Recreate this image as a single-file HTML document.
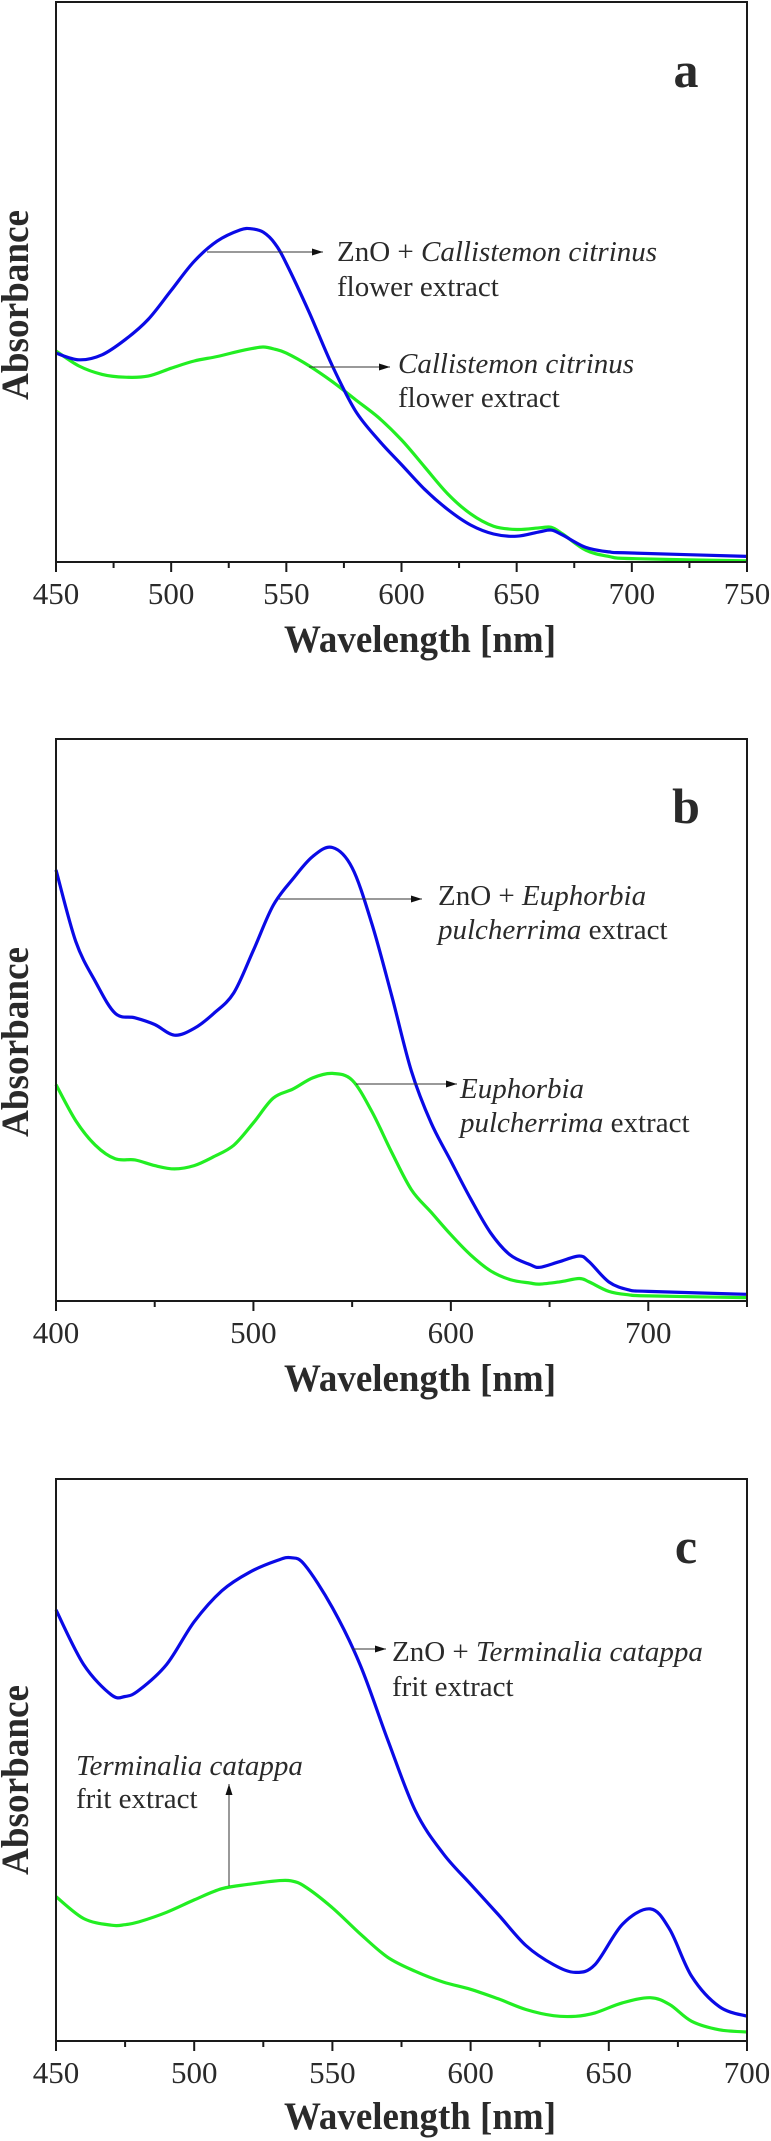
<!DOCTYPE html>
<html><head><meta charset="utf-8">
<style>
html,body{margin:0;padding:0;background:#fff;}
svg{display:block;}
text{font-family:"Liberation Serif",serif;fill:#2a2a2a;}
</style></head>
<body>
<svg id="fig" width="771" height="2141" viewBox="0 0 771 2141" xmlns="http://www.w3.org/2000/svg"></svg>
<script>
// Panel a data (relative absorbance, fraction of plot height)
const aWave = [450,460,470,480,490,500,510,520,530,535,540,545,550,560,570,580,590,600,610,620,630,640,650,660,665,670,680,690,700,750];
const aZnO  = [0.373,0.361,0.37,0.397,0.433,0.485,0.537,0.573,0.593,0.595,0.589,0.569,0.533,0.445,0.35,0.27,0.218,0.174,0.13,0.094,0.066,0.05,0.046,0.054,0.057,0.048,0.026,0.018,0.016,0.010];
const aExt  = [0.377,0.35,0.335,0.33,0.332,0.346,0.359,0.367,0.377,0.381,0.384,0.38,0.373,0.35,0.322,0.29,0.258,0.218,0.17,0.122,0.086,0.064,0.058,0.061,0.062,0.05,0.021,0.01,0.006,0.002];
const aTicks = [450,500,550,600,650,700,750];
// Panel b data
const bWave = [400,410,420,430,440,450,460,470,480,490,500,510,520,530,540,550,560,570,580,590,600,610,620,630,640,645,655,665,670,680,690,700,750];
const bZnO  = [0.767,0.64,0.568,0.512,0.504,0.492,0.473,0.485,0.512,0.548,0.624,0.704,0.751,0.791,0.807,0.771,0.671,0.544,0.409,0.317,0.249,0.182,0.122,0.082,0.065,0.06,0.07,0.08,0.07,0.034,0.02,0.017,0.012];
const bExt  = [0.385,0.321,0.277,0.253,0.251,0.241,0.235,0.241,0.257,0.277,0.317,0.361,0.377,0.397,0.405,0.393,0.337,0.265,0.198,0.158,0.118,0.082,0.054,0.038,0.032,0.03,0.034,0.04,0.034,0.017,0.011,0.009,0.006];
const bTicks = [400,500,600,700];
// Panel c data
const cWave = [450,460,470,475,480,490,500,510,520,530,535,540,550,560,570,580,590,600,610,620,630,638,645,655,665,672,680,690,700];
const cZnO  = [0.767,0.67,0.616,0.613,0.624,0.67,0.746,0.801,0.834,0.855,0.86,0.847,0.771,0.67,0.536,0.41,0.334,0.279,0.225,0.17,0.136,0.122,0.136,0.208,0.235,0.199,0.115,0.061,0.044];
const cExt  = [0.257,0.218,0.206,0.207,0.212,0.229,0.251,0.271,0.279,0.285,0.285,0.275,0.237,0.191,0.149,0.124,0.105,0.092,0.075,0.056,0.045,0.044,0.05,0.068,0.077,0.065,0.035,0.02,0.016];
const cTicks = [450,500,550,600,650,700];

const NS = "http://www.w3.org/2000/svg";
const svg = document.getElementById('fig');
function mk(tag, attrs, parent){
  const e = document.createElementNS(NS, tag);
  for (const k in attrs) e.setAttribute(k, attrs[k]);
  (parent||svg).appendChild(e);
  return e;
}
function smoothPath(pts){
  let d = "M" + pts[0][0].toFixed(1) + "," + pts[0][1].toFixed(1);
  for (let i=0;i<pts.length-1;i++){
    const p0 = pts[Math.max(0,i-1)], p1 = pts[i], p2 = pts[i+1], p3 = pts[Math.min(pts.length-1,i+2)];
    const c1x = p1[0]+(p2[0]-p0[0])/6, c1y = p1[1]+(p2[1]-p0[1])/6;
    const c2x = p2[0]-(p3[0]-p1[0])/6, c2y = p2[1]-(p3[1]-p1[1])/6;
    d += " C"+c1x.toFixed(1)+","+c1y.toFixed(1)+" "+c2x.toFixed(1)+","+c2y.toFixed(1)+" "+p2[0].toFixed(1)+","+p2[1].toFixed(1);
  }
  return d;
}
function panel(cfg){
  const L=56, R=747, T=cfg.top, B=cfg.bottom;
  const g = mk('g',{});
  
  
  const xs = w => L + (w - cfg.x0)/(cfg.x1 - cfg.x0)*(R-L);
  const ys = v => B - v*(B-T);
  // curves
  const ext = mk('path',{d:smoothPath(cfg.wave.map((w,i)=>[xs(w),ys(cfg.ext[i])])),fill:'none',stroke:'#22ee22','stroke-width':3.2,'stroke-linejoin':'round'},g);
  
  
  const zno = mk('path',{d:smoothPath(cfg.wave.map((w,i)=>[xs(w),ys(cfg.zno[i])])),fill:'none',stroke:'#0a0ae6','stroke-width':3.2,'stroke-linejoin':'round'},g);
  
  
  // frame
  const fr = mk('rect',{x:L,y:T,width:R-L,height:B-T,fill:'none',stroke:'#1a1a1a','stroke-width':2},g);
  
  
  // ticks
  for (let w=cfg.x0; w<=cfg.x1+0.01; w+=cfg.minor){
    const major = cfg.ticks.indexOf(w) >= 0;
    const t = mk('line',{x1:xs(w),x2:xs(w),y1:B,y2:B+(major?10:6),stroke:'#1a1a1a','stroke-width':2},g);
    
    
  }
  cfg.ticks.forEach(w=>{
    const t = mk('text',{x:xs(w),y:B+42,'text-anchor':'middle','font-size':31},g);
    t.textContent = w;
    
    
  });
  const xt = mk('text',{x:420,y:cfg.titleY,'text-anchor':'middle','font-size':39,'font-weight':'bold',textLength:272,lengthAdjust:'spacingAndGlyphs'},g);
  xt.textContent = 'Wavelength [nm]';
  
  
  const yt = mk('text',{x:0,y:0,'text-anchor':'middle','font-size':39,'font-weight':'bold',textLength:190,lengthAdjust:'spacingAndGlyphs',transform:'translate(28,'+cfg.absY+') rotate(-90)'},g);
  yt.textContent = 'Absorbance';
  
  
  const pl = mk('text',{x:686,y:cfg.letterY,'text-anchor':'middle','font-size':50,'font-weight':'bold'},g);
  pl.textContent = cfg.id;
  
  
  return g;
}
function arrow(g,x1,y1,x2,y2,name){
  const a = mk('g',{},g);
  
  
  mk('line',{x1:x1,y1:y1,x2:x2,y2:y2,stroke:'#333','stroke-width':1},a);
  const dx=x2-x1, dy=y2-y1, len=Math.hypot(dx,dy), ux=dx/len, uy=dy/len;
  const bx=x2-ux*11, by=y2-uy*11;
  mk('polygon',{points:x2+","+y2+" "+(bx-uy*3.5)+","+(by+ux*3.5)+" "+(bx+uy*3.5)+","+(by-ux*3.5),fill:'#111'},a);
}
function label(g,x,y,parts,name){
  const t = mk('text',{x:x,y:y,'font-size':29},g);
  
  
  parts.forEach(p=>{
    const s = mk('tspan',p[1]?{'font-style':'italic'}:{},t);
    s.textContent = p[0];
  });
}

const ga = panel({id:'a',top:2,bottom:562,x0:450,x1:750,minor:25,ticks:aTicks,wave:aWave,zno:aZnO,ext:aExt,titleY:652,absY:305,letterY:87});
arrow(ga,207,252,323,252,'zno-label-arrow');
label(ga,337,261,[['ZnO + ',0],['Callistemon citrinus',1]],'zno-legend-label');
label(ga,337,296,[['flower extract',0]],'zno-legend-label-line2');
arrow(ga,309,367,390,367,'extract-label-arrow');
label(ga,398,373,[['Callistemon citrinus',1]],'extract-legend-label');
label(ga,398,407,[['flower extract',0]],'extract-legend-label-line2');

const gb = panel({id:'b',top:739,bottom:1301,x0:400,x1:750,minor:50,ticks:bTicks,wave:bWave,zno:bZnO,ext:bExt,titleY:1391,absY:1042,letterY:823});
arrow(gb,279,899,422,899,'zno-label-arrow');
label(gb,438,905,[['ZnO + ',0],['Euphorbia',1]],'zno-legend-label');
label(gb,438,939,[['pulcherrima',1],[' extract',0]],'zno-legend-label-line2');
arrow(gb,356,1084,457,1084,'extract-label-arrow');
label(gb,460,1098,[['Euphorbia',1]],'extract-legend-label');
label(gb,460,1132,[['pulcherrima',1],[' extract',0]],'extract-legend-label-line2');

const gc = panel({id:'c',top:1479,bottom:2041,x0:450,x1:700,minor:25,ticks:cTicks,wave:cWave,zno:cZnO,ext:cExt,titleY:2129,absY:1780,letterY:1563});
arrow(gc,352,1649,386,1649,'zno-label-arrow');
label(gc,392,1661,[['ZnO + ',0],['Terminalia catappa',1]],'zno-legend-label');
label(gc,392,1696,[['frit extract',0]],'zno-legend-label-line2');
arrow(gc,229,1886,229,1784,'extract-label-arrow');
label(gc,76,1775,[['Terminalia catappa',1]],'extract-legend-label');
label(gc,76,1808,[['frit extract',0]],'extract-legend-label-line2');
</script>
</body></html>
